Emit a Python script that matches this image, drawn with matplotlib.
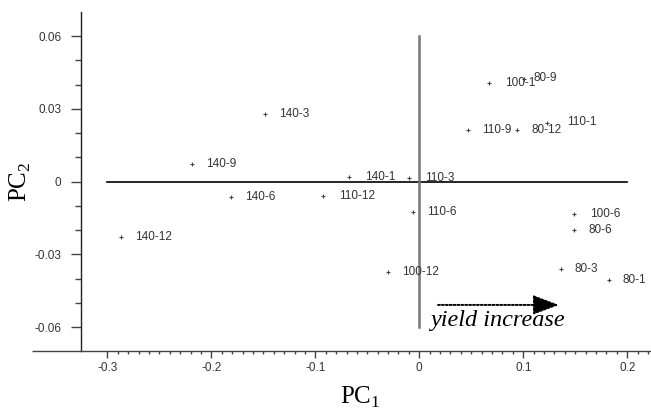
import numpy as np
import matplotlib
matplotlib.use("Agg")
import matplotlib.pyplot as plt
from matplotlib import font_manager
from matplotlib.ticker import FixedLocator

names = ["140-3", "140-9", "140-6", "140-12", "140-1", "110-3", "110-12", "110-6",
         "100-12", "100-1", "80-9", "110-9", "80-12", "110-1", "100-6", "80-6",
         "80-3", "80-1"]
pc1 = [-0.148, -0.219, -0.181, -0.287, -0.068, -0.010, -0.093, -0.006,
       -0.030, 0.067, 0.101, 0.047, 0.094, 0.123, 0.149, 0.149,
       0.136, 0.182]
pc2 = [0.028, 0.0073, -0.0061, -0.0226, 0.0019, 0.0014, -0.0057, -0.0123,
       -0.0373, 0.0408, 0.0422, 0.0215, 0.0213, 0.0244, -0.0133, -0.0201,
       -0.0359, -0.0405]
x_ticks = [-0.3, -0.2, -0.1, 0.0, 0.1, 0.2]
x_tick_labels = ["-0.3", "-0.2", "-0.1", "0", "0.1", "0.2"]
y_ticks = [-0.06, -0.03, 0.0, 0.03, 0.06]
y_tick_labels = ["-0.06", "-0.03", "0", "0.03", "0.06"]

# label offsets in pixels (style)
label_dx = {"80-9": 9, "110-1": 20, "100-1": 16, "100-6": 16, "140-1": 16,
            "110-3": 16, "110-12": 16}
label_dy = {"80-9": 1, "110-1": 1}

avail = {f.name for f in font_manager.fontManager.ttflist}
if "Liberation Sans Narrow" in avail:
    sans = ["Liberation Sans Narrow"]
    fs = 10
else:
    sans = ["Liberation Sans"]
    fs = 8.5

plt.rcParams["mathtext.fontset"] = "custom"
plt.rcParams["mathtext.rm"] = "Liberation Serif"

fig = plt.figure(figsize=(6.51, 4.13), dpi=100)
W, H = 651, 413
ax = fig.add_axes([81 / W, 1 - 351 / H, (W - 81) / W, (351 - 12) / H])
ax.set_xlim(-0.3253, 0.2228)
ax.set_ylim(-0.0698, 0.0700)

for s in ["top", "right"]:
    ax.spines[s].set_visible(False)
ax.spines["left"].set_linewidth(1.0)
ax.spines["bottom"].set_linewidth(1.0)
ax.spines["left"].set_color("#222222")
ax.spines["bottom"].set_color("#444444")
# extend bottom axis line to the left
ax.plot([-0.086, 0], [0, 0], transform=ax.transAxes, color="#444444", lw=1.0,
        clip_on=False, solid_capstyle="butt")

ax.set_xticks(x_ticks)
ax.set_xticklabels(x_tick_labels)
ax.xaxis.set_minor_locator(FixedLocator(np.round(np.arange(-0.30, 0.2251, 0.01), 3)))
ax.set_yticks(y_ticks)
ax.set_yticklabels(y_tick_labels)
ax.yaxis.set_minor_locator(FixedLocator(np.round(np.arange(-0.05, 0.0501, 0.01), 3)))

ax.tick_params(axis="x", which="major", direction="out", length=5, width=1, color="#444444",
               pad=3, labelsize=fs, labelcolor="#333333")
ax.tick_params(axis="x", which="minor", direction="out", length=2.5, width=1, color="#444444")
ax.tick_params(axis="y", which="major", direction="out", length=7.5, width=1, color="#444444",
               pad=6.5, labelsize=fs, labelcolor="#333333")
ax.tick_params(axis="y", which="minor", direction="out", length=4, width=1, color="#444444")
for lab in ax.get_xticklabels() + ax.get_yticklabels():
    lab.set_family(sans)

# reference lines
ax.plot([-0.3, 0.2], [0, 0], color="black", lw=1.2, zorder=1)
ax.plot([0, 0], [-0.06, 0.06], color="#777777", lw=1.8, zorder=1)

ax.scatter(pc1, pc2, marker="+", s=6, linewidths=0.8, color="#444444", zorder=3)
for n, x, y in zip(names, pc1, pc2):
    ax.annotate(n, (x, y), xytext=(label_dx.get(n, 14), label_dy.get(n, 0)),
                textcoords="offset pixels", va="center", ha="left",
                fontsize=fs, color="#333333", family=sans)

# yield increase arrow
ax.annotate("", xy=(0.1343, -0.0508), xytext=(0.018, -0.0508),
            arrowprops=dict(arrowstyle="-|>,head_length=1.6,head_width=0.6",
                            linestyle=(0, (1, 1)), lw=1.4, color="black",
                            shrinkA=0, shrinkB=0))
ax.text(0.0105, -0.0594, "yield increase", family="Liberation Serif", style="italic",
        fontsize=17.5, ha="left", va="baseline", color="black")

ax.set_xlabel("PC$_1$", family="Liberation Serif", fontsize=18, labelpad=8)
ax.xaxis.set_label_coords(0.49, -0.1)
ax.xaxis.label.set_va("top")
ax.set_ylabel("PC$_2$", family="Liberation Serif", fontsize=18, labelpad=1)

fig.savefig("out.png", dpi=100)
